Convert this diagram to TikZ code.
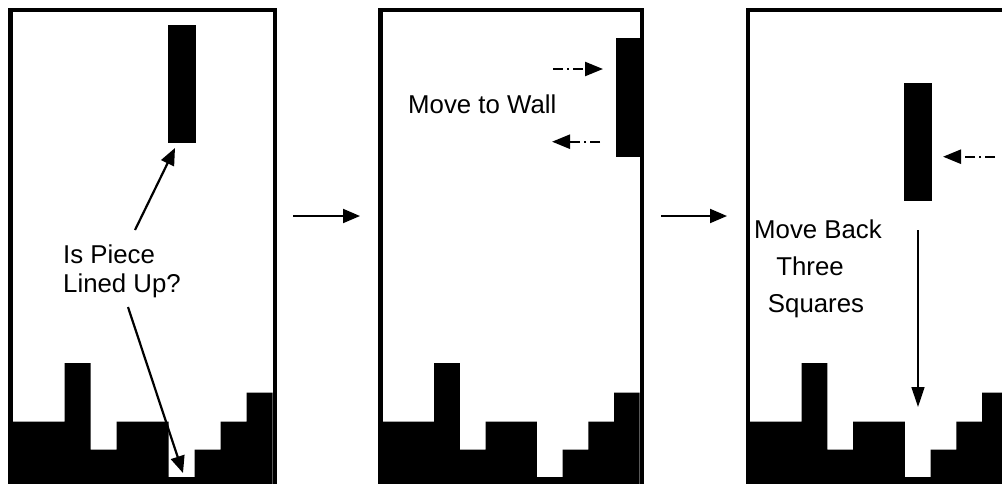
\documentclass[tikz,border=0pt]{standalone}
\usepackage{fontspec}
\setmainfont{Liberation Sans}
\usetikzlibrary{arrows.meta}
\begin{document}
\begin{tikzpicture}[x=1pt,y=-1pt,
  lbl/.style={font=\fontsize{25.8}{29}\selectfont, inner sep=0pt},
  solidarr/.style={line width=2.2pt, -{Triangle[length=17pt,width=14pt]}},
  thinarr/.style={line width=1.4pt, -{Triangle[length=20pt,width=13pt]}},
  dasharr/.style={line width=2.4pt, dash pattern=on 10pt off 4pt on 2pt off 4pt, -{Triangle[length=18pt,width=14pt]}},
  piece/.style={fill=black},
  wellframe/.style={line width=4.5pt, line join=miter}]
\useasboundingbox (0,0) rectangle (1002,483);
\clip (0,0) rectangle (1002,483);
\fill[white] (0,0) rectangle (1002,483);

% well: #1 = inner left x, #2 = cell width
\newcommand\tetwell[2]{%
  \fill ({#1},486) -- ({#1},421.7) -- ({#1+2*#2},421.7) -- ({#1+2*#2},363)
    -- ({#1+3*#2},363) -- ({#1+3*#2},449.5) -- ({#1+4*#2},449.5)
    -- ({#1+4*#2},421.7) -- ({#1+6*#2},421.7) -- ({#1+6*#2},477)
    -- ({#1+7*#2},477) -- ({#1+7*#2},449.5) -- ({#1+8*#2},449.5)
    -- ({#1+8*#2},421.7) -- ({#1+9*#2},421.7) -- ({#1+9*#2},392.5)
    -- ({#1+10*#2},392.5) -- ({#1+10*#2},486) -- cycle;
  \draw[wellframe] ({#1-2.2},490) -- ({#1-2.2},9.8) -- ({#1+10*#2+2.2},9.8) -- ({#1+10*#2+2.2},490);
}

% panel 1
\tetwell{12.7}{26.0}
\fill[piece] (168,25) rectangle (196,142.7);
\node[lbl, anchor=base west] (q1) at (63,263) {Is Piece};
\node[lbl, anchor=base west] (q2) at (63,292) {Lined Up?};
\coordinate (u0) at (135,230);
\coordinate (u1) at (175,148);
\coordinate (d0) at (128,307);
\coordinate (d1) at (183,473);
\draw[solidarr] (u0) -- (u1);
\draw[solidarr] (d0) -- (d1);

% between-panel arrows
\coordinate (a0) at (293,216);
\coordinate (a1) at (360,216);
\coordinate (b0) at (661,216);
\coordinate (b1) at (727,216);
\draw[solidarr, line width=2pt] (a0) -- (a1);
\draw[solidarr, line width=2pt] (b0) -- (b1);

% panel 2
\tetwell{382.7}{25.7}
\fill[piece] (615.5,38) rectangle (640,157);
\node[lbl, anchor=base west] (mw) at (408,113.3) {Move to Wall};
\coordinate (r0) at (553,69);
\coordinate (r1) at (603,69);
\coordinate (l0) at (600,141.7);
\coordinate (l1) at (552,141.7);
\draw[dasharr] (r0) -- (r1);
\draw[dasharr] (l0) -- (l1);

% panel 3
\tetwell{750}{25.8}
\fill[piece] (904,82.7) rectangle (932,201);
\node[lbl, anchor=base] (mb1) at (818,238) {Move Back};
\node[lbl, anchor=base] (mb2) at (810,275) {Three};
\node[lbl, anchor=base] (mb3) at (816,312) {Squares};
\coordinate (p0) at (995,156.7);
\coordinate (p1) at (943,156.7);
\draw[dasharr] (p0) -- (p1);
\coordinate (v0) at (918,230);
\coordinate (v1) at (918,407);
\draw[thinarr] (v0) -- (v1);
\end{tikzpicture}
\end{document}
